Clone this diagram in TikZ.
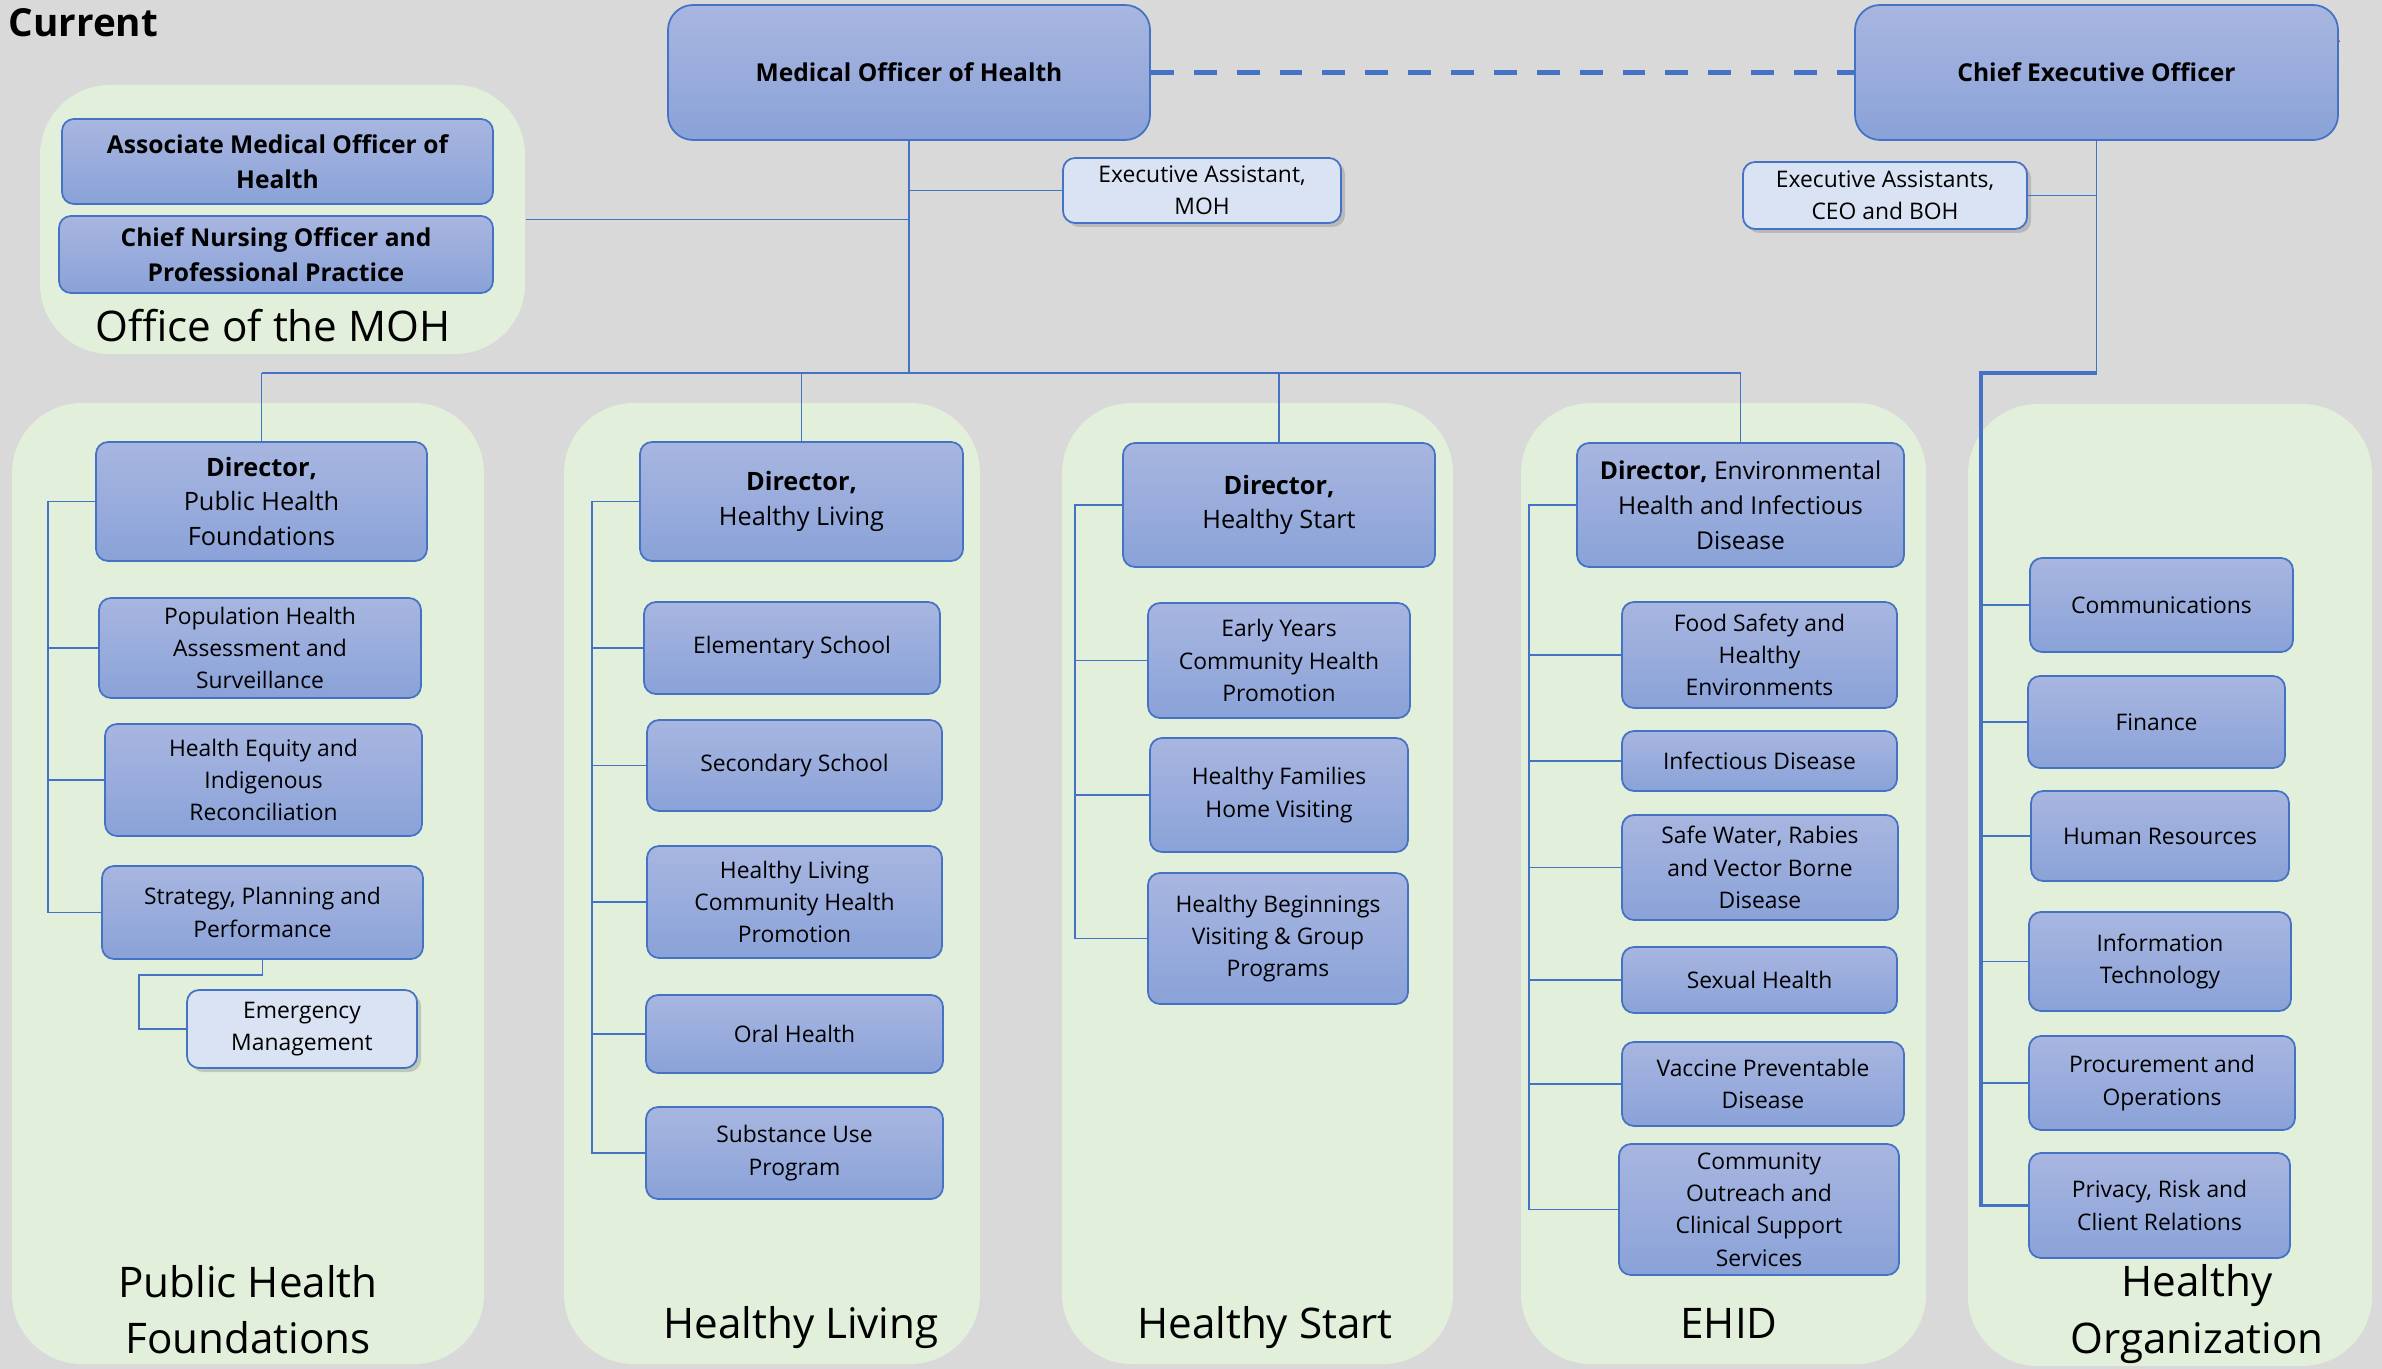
\documentclass[tikz,border=0pt]{standalone}
\usepackage{fontspec}
\setmainfont{Open Sans}
\newfontfamily\arialfont{Liberation Sans}
\usetikzlibrary{shadows}
\definecolor{bggray}{RGB}{217,217,217}
\definecolor{panelgreen}{RGB}{226,239,218}
\definecolor{boxline}{RGB}{68,114,196}
\definecolor{boxtop}{RGB}{168,182,224}
\definecolor{boxbot}{RGB}{138,162,216}
\definecolor{assistfill}{RGB}{218,227,243}
\definecolor{reportred}{RGB}{255,0,0}
\newcommand{\unitfont}{\fontsize{6.5}{9.2}\selectfont}
\newcommand{\dirfont}{\fontsize{7.2}{9.9}\selectfont}
\newcommand{\headfont}{\fontsize{7}{10}\selectfont\bfseries}
\newcommand{\groupfont}{\fontsize{12}{16}\selectfont}
\tikzset{
  dims/.style 2 args={minimum width=#1cm, minimum height=#2cm},
  unit/.style={draw=boxline, line width=0.5pt, top color=boxtop, bottom color=boxbot,
    rounded corners=0.12cm, align=center, inner sep=1pt, font=\unitfont},
  director/.style={unit, font=\dirfont},
  head/.style={unit, rounded corners=0.25cm, font=\headfont},
  assist/.style={draw=boxline, line width=0.5pt, fill=assistfill, rounded corners=0.12cm,
    align=center, inner sep=1pt, font=\fontsize{6.5}{9}\selectfont,
    drop shadow={shadow xshift=0.04cm, shadow yshift=-0.04cm, opacity=0.35}},
  panel/.style={fill=panelgreen, rounded corners=0.7cm, inner sep=0pt},
  grouplabel/.style={font=\groupfont, align=center, inner sep=0pt},
  link/.style={draw=boxline, line width=0.5pt}
}

\begin{document}
\begin{tikzpicture}
  % Background
  \fill[bggray] (0,0) rectangle (23.82,-13.69);

  % Panels
  \node[panel, dims={4.85}{2.69}] (ofc) at (2.825,-2.195) {};
  \node[panel, dims={4.72}{9.61}] (phfp) at (2.48,-8.835) {};
  \node[panel, dims={4.16}{9.61}] (hlp) at (7.72,-8.835) {};
  \node[panel, dims={3.91}{9.61}] (hsp) at (12.575,-8.835) {};
  \node[panel, dims={4.05}{9.61}] (ehp) at (17.235,-8.835) {};
  \node[panel, dims={4.04}{9.62}] (hop) at (21.70,-8.85) {};

  % Title and report tag
  \node[font=\fontsize{11}{13}\selectfont\bfseries, anchor=base west, inner sep=0pt] (title) at (0.08,-0.37) {Current};
  \node[font=\arialfont\fontsize{6}{7}\selectfont, text=reportred, anchor=base east, inner sep=0pt] (report) at (23.41,-0.43) {Report No. 80-23: Appendix A};

  % Top level
  \node[head, dims={4.82}{1.35}] (moh) at (9.09,-0.725) {Medical Officer of Health};
  \node[head, dims={4.83}{1.35}] (ceo) at (20.965,-0.725) {Chief Executive Officer};
  \node[assist, dims={2.78}{0.65}] (execmoh) at (12.02,-1.905) {Executive Assistant,\\MOH};
  \node[assist, dims={2.84}{0.67}] (execceo) at (18.85,-1.955) {Executive Assistants,\\CEO and BOH};

  % Office of the MOH
  \node[unit, font=\headfont, dims={4.31}{0.85}] (assoc) at (2.775,-1.615) {Associate Medical Officer of\\Health};
  \node[unit, font=\headfont, dims={4.34}{0.77}] (cno) at (2.76,-2.545) {Chief Nursing Officer and\\Professional Practice};
  \node[grouplabel, anchor=base] (ofclabel) at (2.73,-3.42) {Office of the MOH};

  % Public Health Foundations
  \node[director, dims={3.31}{1.19}] (dirphf) at (2.615,-5.015) {\textbf{Director,}\\Public Health\\Foundations};
  \node[unit, dims={3.22}{1.00}] (pophealth) at (2.60,-6.48) {Population Health\\Assessment and\\Surveillance};
  \node[unit, dims={3.17}{1.12}] (equity) at (2.635,-7.80) {Health Equity and\\Indigenous\\Reconciliation};
  \node[unit, dims={3.21}{0.93}] (strategy) at (2.625,-9.125) {Strategy, Planning and\\Performance};
  \node[assist, dims={2.30}{0.78}] (emergency) at (3.02,-10.29) {Emergency\\Management};
  \node[grouplabel] (phflabel) at (2.48,-13.10) {Public Health\\Foundations};

  % Healthy Living
  \node[director, dims={3.23}{1.19}] (dirhl) at (8.015,-5.015) {\textbf{Director,}\\Healthy Living};
  \node[unit, dims={2.96}{0.92}] (elementary) at (7.92,-6.48) {Elementary School};
  \node[unit, dims={2.95}{0.91}] (secondary) at (7.945,-7.655) {Secondary School};
  \node[unit, dims={2.95}{1.12}] (hlchp) at (7.945,-9.02) {Healthy Living\\Community Health\\Promotion};
  \node[unit, dims={2.97}{0.78}] (oral) at (7.945,-10.34) {Oral Health};
  \node[unit, dims={2.97}{0.92}] (substance) at (7.945,-11.53) {Substance Use\\Program};
  \node[grouplabel, anchor=base] (hllabel) at (8.01,-13.38) {Healthy Living};

  % Healthy Start
  \node[director, dims={3.12}{1.24}] (dirhs) at (12.79,-5.05) {\textbf{Director,}\\Healthy Start};
  \node[unit, dims={2.62}{1.15}] (earlyyears) at (12.79,-6.605) {Early Years\\Community Health\\Promotion};
  \node[unit, dims={2.58}{1.14}] (families) at (12.79,-7.95) {Healthy Families\\Home Visiting};
  \node[unit, dims={2.60}{1.31}] (beginnings) at (12.78,-9.385) {Healthy Beginnings\\Visiting \& Group\\Programs};
  \node[grouplabel, anchor=base] (hslabel) at (12.65,-13.38) {Healthy Start};

  % EHID
  \node[director, font=\fontsize{7}{9.9}\selectfont, dims={3.27}{1.24}] (direhid) at (17.405,-5.05) {\textbf{Director,} Environmental\\Health and Infectious\\Disease};
  \node[unit, dims={2.75}{1.06}] (food) at (17.595,-6.55) {Food Safety and\\Healthy\\Environments};
  \node[unit, dims={2.75}{0.60}] (infectious) at (17.595,-7.61) {Infectious Disease};
  \node[unit, dims={2.76}{1.05}] (water) at (17.60,-8.675) {Safe Water, Rabies\\and Vector Borne\\Disease};
  \node[unit, dims={2.75}{0.66}] (sexual) at (17.595,-9.80) {Sexual Health};
  \node[unit, dims={2.82}{0.84}] (vaccine) at (17.63,-10.84) {Vaccine Preventable\\Disease};
  \node[unit, dims={2.80}{1.31}] (outreach) at (17.59,-12.095) {Community\\Outreach and\\Clinical Support\\Services};
  \node[grouplabel, anchor=base] (ehlabel) at (17.29,-13.38) {EHID};

  % Healthy Organization
  \node[unit, dims={2.63}{0.94}] (comms) at (21.615,-6.05) {Communications};
  \node[unit, dims={2.57}{0.92}] (finance) at (21.565,-7.22) {Finance};
  \node[unit, dims={2.58}{0.90}] (hr) at (21.60,-8.36) {Human Resources};
  \node[unit, dims={2.62}{0.99}] (infotech) at (21.60,-9.615) {Information\\Technology};
  \node[unit, dims={2.66}{0.94}] (procure) at (21.62,-10.83) {Procurement and\\Operations};
  \node[unit, dims={2.61}{1.05}] (privacy) at (21.595,-12.055) {Privacy, Risk and\\Client Relations};
  \node[grouplabel] (holabel) at (21.97,-13.14) {Healthy\\Organization};

  % Connector helpers
  \coordinate (bus) at (0,-3.73);
  \coordinate (phfspine) at (0.48,0);
  \coordinate (hlspine) at (5.92,0);
  \coordinate (hsspine) at (10.75,0);
  \coordinate (ehspine) at (15.29,0);
  \coordinate (hospine) at (19.81,0);
  \coordinate (emjog) at (1.39,-9.75);

  % MOH and CEO links
  \draw[boxline, line width=1.5pt, dash pattern=on 6.5pt off 5.7pt] (moh.east) -- (ceo.west);
  \draw[link] (moh.south) -- (moh.south |- bus);
  \draw[link] (execmoh.west) -- (moh.south |- execmoh.west);
  \draw[link] (ofc.east) -- (moh.south |- ofc.east);
  \draw[link] (execceo.east) -- (ceo.south |- execceo.east);
  \draw[link] (dirphf.north |- bus) -- (direhid.north |- bus);
  \foreach \d in {dirphf, dirhl, dirhs, direhid}
    \draw[link] (\d.north |- bus) -- (\d.north);

  % Department spines
  \draw[link] (dirphf.west) -- (phfspine |- dirphf.west) -- (phfspine |- strategy.west) -- (strategy.west);
  \foreach \u in {pophealth, equity}
    \draw[link] (phfspine |- \u.west) -- (\u.west);
  \draw[link] (strategy.south) |- (emjog) |- (emergency.west);

  \draw[link] (dirhl.west) -- (hlspine |- dirhl.west) -- (hlspine |- substance.west) -- (substance.west);
  \foreach \u in {elementary, secondary, hlchp, oral}
    \draw[link] (hlspine |- \u.west) -- (\u.west);

  \draw[link] (dirhs.west) -- (hsspine |- dirhs.west) -- (hsspine |- beginnings.west) -- (beginnings.west);
  \foreach \u in {earlyyears, families}
    \draw[link] (hsspine |- \u.west) -- (\u.west);

  \draw[link] (direhid.west) -- (ehspine |- direhid.west) -- (ehspine |- outreach.west) -- (outreach.west);
  \foreach \u in {food, infectious, water, sexual, vaccine}
    \draw[link] (ehspine |- \u.west) -- (\u.west);

  \draw[link] (ceo.south) -- (ceo.south |- bus);
  \draw[link, line width=0.9pt] (ceo.south |- bus) -- (hospine |- bus) -- (hospine |- privacy.west) -- (privacy.west);
  \foreach \u in {comms, finance, hr, infotech, procure}
    \draw[link] (hospine |- \u.west) -- (\u.west);
\end{tikzpicture}
\end{document}
